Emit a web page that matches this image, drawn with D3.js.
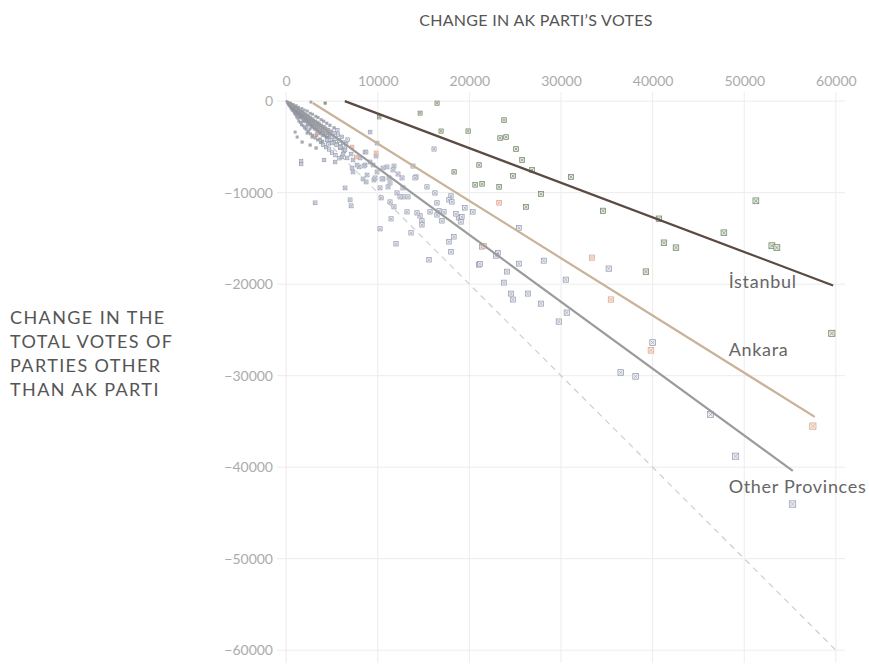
<!DOCTYPE html>
<html>
<head>
<meta charset="utf-8">
<script src="https://cdn.jsdelivr.net/npm/d3@7"></script>
<style>
  html, body { margin: 0; padding: 0; background: #fff; }
  svg { display: block; font-family: "Lato", "Open Sans", sans-serif; }
</style>
</head>
<body>
<svg id="chart" width="869" height="664"></svg>
<script>
// Change in AK Parti votes (x) vs change in votes of all other parties (y), by province / district.
const xTicks = [0, 10000, 20000, 30000, 40000, 50000, 60000];
const yTicks = [0, -10000, -20000, -30000, -40000, -50000, -60000];

const istanbulPoints = [
  [10150,-1740],[14620,-1310],[16470,-220],[16910,-3270],[19860,-3270],[21050,-6970],
  [18330,-7730],[20620,-9150],[21380,-9040],[23240,-9370],[23780,-2070],[23350,-4030],
  [24000,-3920],[25090,-5230],[25750,-6430],[26840,-7520],[24760,-8170],[27820,-10130],
  [26180,-11550],[31090,-8280],[34580,-11980],[40690,-12850],[41240,-15470],[42550,-16010],
  [47780,-14380],[51270,-10890],[53020,-15800],[53560,-16010],[39270,-18630],[59560,-25380],
  [4260,-220]
];

const ankaraPoints = [
  [3270,-3600],[7200,-5010],[7640,-6100],[9820,-5660],[21600,-15800],[23240,-11110],
  [33380,-17100],[35450,-21680],[39820,-27230],[57490,-35510]
];

const otherPoints = [
  // dense group of small districts near the origin
  [60,-30],[90,-110],[140,-70],[170,-190],[210,-120],[230,-280],[270,-150],[290,-340],
  [330,-210],[350,-260],[370,-450],[410,-230],[440,-380],[450,-540],[490,-300],[510,-610],
  [530,-420],[570,-340],[590,-690],[610,-470],[650,-380],[670,-780],[700,-540],[720,-430],
  [760,-620],[770,-880],[810,-500],[830,-700],[870,-960],[890,-560],[920,-760],[960,-1080],
  [990,-640],[1010,-820],[1050,-1200],[1080,-700],[1110,-900],[1150,-760],[1170,-1320],
  [1200,-980],[1250,-820],[1290,-1430],[1310,-1060],[1350,-880],[1400,-1160],[1420,-1580],
  [1470,-960],[1510,-1240],[1560,-1720],[1590,-1040],[1630,-1330],[1690,-1120],[1720,-1880],
  [1760,-1420],[1810,-1210],[1870,-1530],[1900,-2060],[1940,-1300],[1990,-1640],[2060,-1390],
  [2110,-2250],[2150,-1760],[2210,-1480],[2280,-1880],[2330,-2440],[2370,-1590],[2430,-2000],
  [2500,-1700],[2560,-2620],[2610,-2130],[2680,-1810],[2750,-2270],[2800,-2840],[2870,-1930],
  [2940,-2410],[3010,-2080],[3080,-3050],[3150,-2560],[3220,-2190],[3300,-2710],[3370,-3290],
  [3450,-2320],[3530,-2860],[3610,-2470],[3690,-3500],[3770,-3030],[3860,-2620],[3950,-3190],
  [4030,-3740],[4120,-2780],[4220,-3370],[4310,-2950],[4400,-3960],[4500,-3540],[4610,-3100],
  [4720,-3720],[4820,-4200],[4930,-3280],[5050,-3900],[5160,-4460],[5280,-3480],[5400,-4100],
  [5530,-4700],[5660,-3650],[5790,-4300],[5930,-4950],[6080,-3900],[6220,-4520],[6380,-5200],
  [6540,-4700],[6700,-4200],[2700,-100],
  [300,-450],[420,-640],[520,-790],[630,-980],[740,-1090],[880,-1330],[1020,-1480],[1130,-1720],
  [1270,-1880],[1380,-2170],[1540,-2330],[1670,-2580],[1860,-2690],[2010,-2930],[2190,-3080],
  [2420,-3320],[2640,-3570],[2910,-3730],[3160,-4020],[3440,-4230],[3760,-4520],[4040,-4790],
  [4360,-5030],[4690,-5280],[5010,-5620],[5380,-5890],[5820,-6230],
  [500,-190],[790,-360],[1110,-480],[1380,-660],[1720,-790],[1990,-970],[2310,-1080],
  [2620,-1320],[2880,-1430],[3230,-1660],[3480,-1790],[3820,-2020],[4090,-2190],[4430,-2410],
  [4780,-2640],[5230,-2920],[5590,-3180],
  [350,-330],[480,-470],[560,-520],[640,-600],[730,-720],[850,-800],[940,-900],[1030,-1010],
  [1160,-1100],[1230,-1170],[1340,-1290],[1450,-1380],[1540,-1450],[1650,-1560],[1780,-1700],
  [1930,-1810],[2080,-1950],[2250,-2110],[2400,-2250],[2550,-2390],[2720,-2560],[2880,-2690],
  [3050,-2860],[3250,-3010],[3420,-3150],[3600,-3310],[3820,-3440],[4050,-3610],[4280,-3790],
  [4550,-4010],[4850,-4240],[5150,-4510],[5500,-4790],[5900,-5110],[6300,-5480],
  [180,-240],[260,-390],[380,-520],[600,-800],[780,-990],[960,-1210],[1190,-1490],[1480,-1820],
  [1800,-2240],[2240,-2730],[2590,-3040],[3340,-3740],[3980,-4390],[4600,-4720],
  // scattered districts further out
  [1640,-6540],[1640,-6870],[3160,-11110],[6980,-10790],[7090,-11440],[6430,-9480],
  [4140,-6430],[5340,-6650],[8070,-6210],[8610,-5560],[9160,-3380],[10250,-13950],
  [11450,-12860],[11770,-11550],[12650,-8390],[14170,-8280],[14610,-12530],[13630,-14390],
  [15370,-9370],[15700,-12100],[16460,-12430],[17220,-12100],[17990,-10360],[18860,-12750],
  [18310,-14820],[17770,-10790],[16240,-10030],[13300,-10460],[12750,-10460],[12100,-10030],
  [11120,-9370],[10570,-8500],[9590,-8610],[8830,-8070],[8390,-8500],[7960,-7190],
  [7300,-6430],[7090,-5780],[6430,-5340],[5890,-5010],[5010,-4580],[4470,-4250],
  [3710,-4140],[2830,-3920],[2290,-3490],[2620,-4800],[3270,-5120],[1740,-4470],
  [1200,-3920],[980,-3380],[9160,-6650],[8610,-6980],[9810,-6000],[9920,-7740],[9920,-4580],
  [11990,-15590],[15590,-17330],[13190,-12100],[14280,-12210],[14820,-13080],[14820,-13520],
  [16460,-11120],[16680,-11990],[17000,-13080],[18090,-11010],[18530,-12320],[19180,-12640],
  [19080,-13190],[19510,-11660],[20380,-12100],[17770,-15370],[17990,-16460],[21040,-17880],
  [21360,-15910],[11340,-11010],[12430,-10460],[12750,-9480],[11340,-8940],[11230,-8390],
  [10460,-8500],[9700,-8390],[8720,-8830],[10250,-9480],[10360,-10570],[14060,-8390],
  [12210,-7960],[11770,-7090],[11660,-7520],[11010,-7190],[10570,-7300],[9480,-6980],
  [8500,-7090],[7300,-7740],[7190,-7300],[7740,-6980],[6650,-6210],[6100,-6100],
  [6210,-5780],[8720,-5560],[13840,-7090],
  [23110,-16570],[22890,-16900],[24090,-18630],[25400,-17760],[28120,-17430],[23760,-19830],
  [24530,-21030],[24740,-21680],[26380,-21030],[27800,-22130],[30520,-19510],[30630,-23110],
  [29760,-24090],[35210,-18300],[36520,-29650],[38150,-30080],[40000,-26380],[21150,-17770],
  [46330,-34230],[49060,-38800],[55270,-44030],[25400,-13840],[16140,-5230]
];

// Fitted trend lines per group, plus the y = -x reference
const istanbulFit = [[6400, 0], [59700, -20150]];
const ankaraFit = [[2900, -200], [57700, -34500]];
const otherFit = [[0, 0], [55300, -40400]];
const parityLine = [[0, 0], [60000, -60000]];

const groupNames = ["İstanbul", "Ankara", "Other Provinces"];
const groupLabelAt = [[48300, -19700], [48300, -27150], [48300, -42100]];

const svg = d3.select("#chart");

const x = d3.scaleLinear().domain([-1000, 61000]).range([277, 845]);
const y = d3.scaleLinear().domain([1000, -61400]).range([92, 663]);

// Grid
const grid = svg.append("g");
grid.selectAll("line.v").data(xTicks).join("line")
  .attr("x1", d => x(d)).attr("x2", d => x(d))
  .attr("y1", y.range()[0]).attr("y2", y.range()[1])
  .attr("stroke", "#ececec").attr("stroke-width", 1);
grid.selectAll("line.h").data(yTicks).join("line")
  .attr("y1", d => y(d)).attr("y2", d => y(d))
  .attr("x1", x.range()[0]).attr("x2", x.range()[1])
  .attr("stroke", "#ececec").attr("stroke-width", 1);

// Axes (labels only)
const fmt = d3.format("d");
const xAxis = svg.append("g").attr("transform", "translate(0,86)")
  .call(d3.axisTop(x).tickValues(xTicks).tickFormat(fmt).tickSize(0).tickPadding(0));
const yAxis = svg.append("g").attr("transform", "translate(273,0)")
  .call(d3.axisLeft(y).tickValues(yTicks).tickFormat(d => fmt(d).replace("-", "\u2212")).tickSize(0).tickPadding(0));
[xAxis, yAxis].forEach(a => {
  a.select(".domain").remove();
  a.selectAll("text").attr("fill", "#ababab").style("font-size", "14px")
    .style("font-family", "Lato, sans-serif");
});

// Reference line y = -x
const line = d3.line().x(d => x(d[0])).y(d => y(d[1]));
svg.append("path").datum(parityLine).attr("d", line)
  .attr("fill", "none").attr("stroke", "#cfcfcf").attr("stroke-width", 1.2)
  .attr("stroke-dasharray", "6,5");

// Points: marker size grows with the size of the swing
const size = d3.scaleSqrt().domain([0, 70000]).range([2, 6.4]);
const mag = d => size(Math.hypot(d[0], d[1]));
const SMALL = 3.3;

function drawPoints(data, stroke, fill, dot) {
  const g = svg.append("g");
  const p = g.selectAll("g").data(data).join("g")
    .attr("transform", d => `translate(${x(d[0])},${y(d[1])})`);
  p.append("rect")
    .attr("x", d => -mag(d) / 2)
    .attr("y", d => -mag(d) / 2)
    .attr("width", d => mag(d))
    .attr("height", d => mag(d))
    .attr("fill", d => mag(d) < SMALL ? dot : fill)
    .attr("fill-opacity", d => mag(d) < SMALL ? 0.8 : 1)
    .attr("stroke", stroke)
    .attr("stroke-width", d => mag(d) < SMALL ? 0 : 0.7);
  p.filter(d => mag(d) >= SMALL).append("path")
    .attr("d", d => {
      const h = mag(d) / 2 - 0.9;
      return `M${-h},${-h}L${h},${h}M${h},${-h}L${-h},${h}`;
    })
    .attr("stroke", stroke).attr("stroke-width", 0.6).attr("fill", "none");
}

drawPoints(otherPoints, "#9198ac", "#eef0f5", "#8e939f");
drawPoints(ankaraPoints, "#d9a287", "#f8e9e1", "#d9a287");
drawPoints(istanbulPoints, "#6d7f64", "#e6ece2", "#6d7f64");

// Trend lines
svg.append("path").datum(otherFit).attr("d", line)
  .attr("fill", "none").attr("stroke", "#9b9b9b").attr("stroke-width", 2.2);
svg.append("path").datum(ankaraFit).attr("d", line)
  .attr("fill", "none").attr("stroke", "#c9b298").attr("stroke-width", 2.2);
svg.append("path").datum(istanbulFit).attr("d", line)
  .attr("fill", "none").attr("stroke", "#5a4a41").attr("stroke-width", 2.2);

// Group labels
svg.append("g").selectAll("text").data(groupNames).join("text")
  .attr("x", (d, i) => x(groupLabelAt[i][0]))
  .attr("y", (d, i) => y(groupLabelAt[i][1]))
  .attr("dy", "0.35em")
  .attr("fill", "#666").style("font-size", "18px").style("letter-spacing", "0.7px")
  .text(d => d);

// Titles
svg.append("text").attr("x", 536).attr("y", 26).attr("text-anchor", "middle")
  .attr("fill", "#555").style("font-size", "16px").style("letter-spacing", "0.3px")
  .text("CHANGE IN AK PARTI’S VOTES");

const yTitle = ["CHANGE IN THE", "TOTAL VOTES OF", "PARTIES OTHER", "THAN AK PARTI"];
svg.append("g").selectAll("text").data(yTitle).join("text")
  .attr("x", 10).attr("y", (d, i) => 324 + i * 24)
  .attr("fill", "#555").style("font-size", "18px").style("letter-spacing", "1.4px")
  .text(d => d);
</script>
</body>
</html>
